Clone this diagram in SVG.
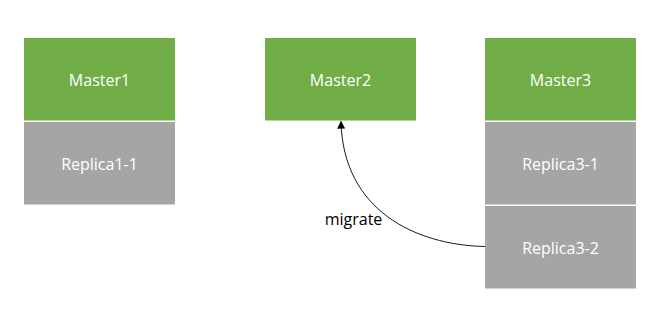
<svg xmlns="http://www.w3.org/2000/svg" width="659" height="318" viewBox="0 0 659 318">
<defs>
<style>
.m{fill:#70AD47}
.r{fill:#A5A5A5}
.t{font-family:"Open Sans","Noto Sans",sans-serif;font-size:16px;fill:#FFFFFF;text-anchor:middle;dominant-baseline:central}
.l{font-family:"Open Sans","Noto Sans",sans-serif;font-size:16px;fill:#000000;text-anchor:middle;dominant-baseline:central}
</style>
<marker id="ah" viewBox="0 0 10 10" refX="9" refY="5" markerWidth="8" markerHeight="8" markerUnits="userSpaceOnUse" orient="auto">
<path d="M0,0 L10,5 L0,10 z" fill="#000"/>
</marker>
</defs>
<rect width="659" height="318" fill="#fff"/>
<g id="master1"><rect class="m" x="24" y="38" width="151" height="82.5"/><text class="t" x="99.5" y="80">Master1</text></g>
<g id="replica1-1"><rect class="r" x="24" y="122" width="151" height="82.5"/><text class="t" x="99.5" y="164">Replica1-1</text></g>
<g id="master2"><rect class="m" x="265" y="38" width="151" height="82.5"/><text class="t" x="340.5" y="80">Master2</text></g>
<g id="master3"><rect class="m" x="485" y="38" width="151" height="82.5"/><text class="t" x="560.5" y="80">Master3</text></g>
<g id="replica3-1"><rect class="r" x="485" y="122" width="151" height="82.5"/><text class="t" x="560.5" y="164">Replica3-1</text></g>
<g id="replica3-2"><rect class="r" x="485" y="206" width="151" height="82.5"/><text class="t" x="560.5" y="248">Replica3-2</text></g>
<g id="connectors">
<path d="M485,246.5 C415,245 343,210 341,121.5" fill="none" stroke="#000" stroke-width="0.9" marker-end="url(#ah)"/>
<text class="l" x="353.5" y="219">migrate</text>
</g>
</svg>
